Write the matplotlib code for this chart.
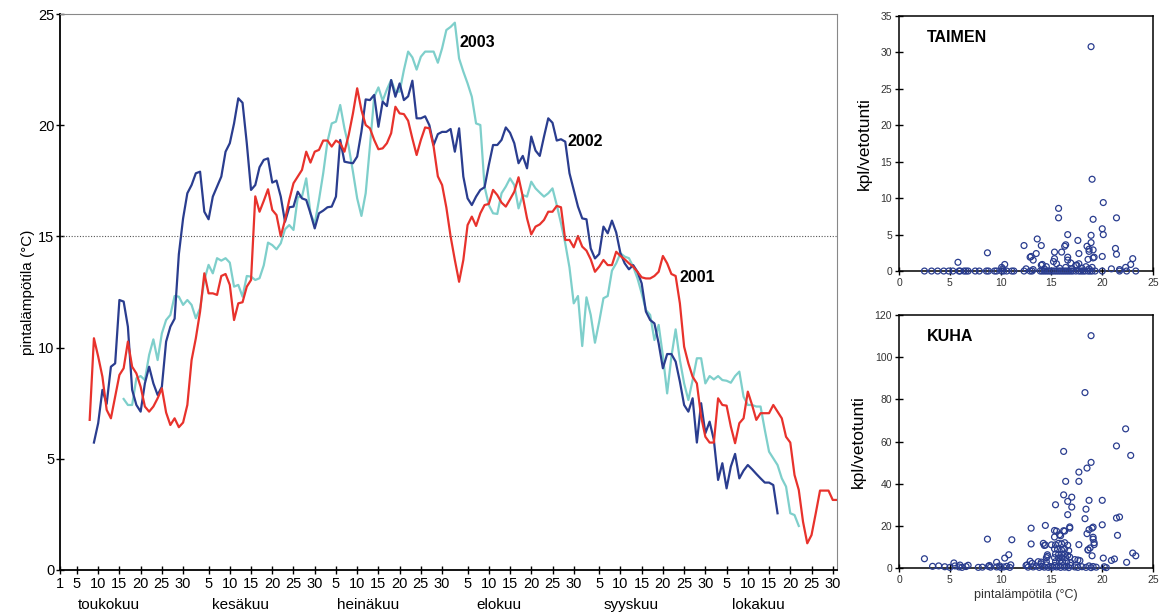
import numpy as np
import matplotlib
matplotlib.use("Agg")
import matplotlib.pyplot as plt

plt.rcParams['font.family'] = ['Liberation Sans', 'DejaVu Sans']

# daily surface temperature, day index counted from 1 May (= 0)
start_2001 = 7
temp_2001 = [6.75, 10.42, 9.6, 8.69, 7.2, 6.82, 7.8, 8.77, 9.07, 10.27,
             9.14, 8.84, 8.24, 7.35, 7.12, 7.35, 7.72, 8.17, 7.08, 6.52,
             6.82, 6.42, 6.63, 7.42, 9.44, 10.42, 11.62, 13.34, 12.44, 12.44,
             12.37, 13.22, 13.31, 12.82, 11.24, 11.99, 12.04, 12.74, 13.04, 16.8,
             16.11, 16.6, 17.12, 16.19, 15.96, 15.0, 15.74, 16.64, 17.39, 17.69,
             17.99, 18.81, 18.32, 18.81, 18.89, 19.31, 19.31, 19.04, 19.31, 19.19,
             18.81, 19.56, 20.53, 21.66, 20.68, 20.01, 19.86, 19.34, 18.92, 18.96,
             19.19, 19.64, 20.83, 20.53, 20.5, 20.2, 19.4, 18.66, 19.34, 19.9,
             19.86, 19.04, 17.7, 17.31, 16.3, 15.0, 13.94, 12.96, 13.94, 15.51,
             15.89, 15.47, 16.04, 16.41, 16.46, 17.09, 16.86, 16.52, 16.34, 16.67,
             17.01, 17.66, 16.79, 15.81, 15.09, 15.44, 15.54, 15.74, 16.11, 16.11,
             16.37, 16.31, 14.84, 14.84, 14.51, 15.02, 14.54, 14.36, 13.97, 13.41,
             13.64, 13.94, 13.71, 13.71, 14.31, 14.12, 13.97, 13.79, 13.64, 13.41,
             13.16, 13.11, 13.11, 13.22, 13.41, 14.12, 13.79, 13.31, 13.22, 11.99,
             10.04, 9.29, 8.69, 8.39, 6.9, 5.99, 5.73, 5.73, 7.72, 7.42,
             7.39, 6.45, 5.7, 6.6, 6.82, 8.02, 7.42, 6.75, 7.05, 7.05,
             7.05, 7.42, 7.12, 6.82, 5.99, 5.73, 4.27, 3.6, 2.17, 1.2,
             1.57, 2.55, 3.57, 3.57, 3.57, 3.15, 3.15]

start_2002 = 8
temp_2002 = [5.73, 6.6, 8.1, 7.47, 9.14, 9.29, 12.14, 12.07, 10.94, 8.1,
             7.42, 7.12, 8.39, 9.14, 8.39, 7.87, 8.24, 10.27, 10.94, 11.3,
             14.2, 15.81, 16.94, 17.31, 17.84, 17.91, 16.11, 15.77, 16.79, 17.24,
             17.69, 18.81, 19.19, 20.08, 21.21, 21.01, 19.19, 17.09, 17.31, 18.11,
             18.44, 18.51, 17.42, 17.51, 16.79, 15.66, 16.31, 16.34, 17.01, 16.71,
             16.64, 16.04, 15.36, 16.04, 16.16, 16.31, 16.34, 16.79, 19.34, 18.36,
             18.32, 18.29, 18.59, 19.71, 21.16, 21.13, 21.36, 19.93, 21.06, 20.86,
             22.03, 21.28, 21.88, 21.13, 21.3, 22.0, 20.31, 20.31, 20.4, 20.0,
             19.11, 19.6, 19.7, 19.7, 19.83, 18.81, 19.86, 17.69, 16.71, 16.41,
             16.79, 17.09, 17.21, 18.21, 19.11, 19.11, 19.34, 19.9, 19.66, 19.19,
             18.29, 18.62, 18.06, 19.49, 18.86, 18.62, 19.49, 20.31, 20.11, 19.31,
             19.37, 19.26, 17.84, 17.09, 16.34, 15.81, 15.77, 14.46, 14.01, 14.21,
             15.44, 15.14, 15.71, 15.18, 14.24, 13.79, 13.52, 13.71, 13.41, 12.89,
             11.62, 11.24, 11.09, 10.19, 9.07, 9.71, 9.71, 9.37, 8.47, 7.42,
             7.12, 7.72, 5.73, 7.5, 6.15, 6.67, 5.85, 4.05, 4.8, 3.67,
             4.65, 5.22, 4.12, 4.47, 4.72, 4.53, 4.32, 4.12, 3.93, 3.93,
             3.82, 2.55]

start_2003 = 15
temp_2003 = [7.69, 7.42, 7.42, 8.62, 8.72, 8.54, 9.67, 10.37, 9.44, 10.64,
             11.24, 11.47, 12.32, 12.29, 11.92, 12.14, 11.92, 11.32, 11.77, 13.04,
             13.72, 13.34, 14.02, 13.91, 14.02, 13.82, 12.74, 12.82, 12.29, 13.22,
             13.19, 13.04, 13.12, 13.7, 14.72, 14.61, 14.42, 14.69, 15.32, 15.51,
             15.29, 16.76, 16.79, 17.61, 16.04, 15.56, 16.64, 17.84, 19.26, 20.08,
             20.16, 20.91, 19.86, 19.04, 17.91, 16.71, 15.92, 16.94, 19.04, 21.28,
             21.7, 21.1, 21.61, 22.03, 21.51, 21.51, 22.48, 23.31, 23.05, 22.5,
             23.08, 23.31, 23.31, 23.31, 22.81, 23.46, 24.28, 24.42, 24.61, 23.0,
             22.41, 21.88, 21.28, 20.08, 20.01, 17.24, 16.41, 16.04, 16.01, 16.94,
             17.24, 17.61, 17.31, 16.26, 16.86, 16.79, 17.46, 17.16, 16.97, 16.79,
             16.94, 17.16, 16.41, 15.59, 14.69, 13.6, 11.99, 12.32, 10.07, 12.26,
             11.47, 10.22, 11.17, 12.22, 12.32, 13.46, 13.79, 14.24, 14.09, 14.02,
             13.64, 13.12, 12.44, 11.69, 11.47, 10.34, 11.02, 9.62, 7.94, 9.59,
             10.82, 9.44, 8.39, 7.64, 8.54, 9.52, 9.52, 8.39, 8.72, 8.57,
             8.72, 8.54, 8.51, 8.42, 8.72, 8.92, 7.79, 7.42, 7.42, 7.35,
             7.35, 6.3, 5.32, 5.02, 4.72, 4.12, 3.75, 2.55, 2.47, 1.98]

months = ['toukokuu', 'kesäkuu', 'heinäkuu', 'elokuu', 'syyskuu', 'lokakuu']
month_start = [0, 31, 61, 92, 123, 153]
tick_days = [1, 5, 10, 15, 20, 25, 30]

# catch per trolling hour vs. surface temperature
taimen_temp = [18.9, 19.0, 20.1, 15.7, 15.7, 19.1, 21.4, 20.0, 20.1, 16.6,
               18.9, 13.6, 17.6, 12.3, 14.0, 16.3, 16.4, 18.5, 18.7, 18.9,
               19.1, 16.0, 15.3, 13.5, 13.0, 8.7, 21.3, 21.4, 23.0, 22.8,
               20.0, 19.1, 18.6, 5.8, 10.4, 17.7, 16.6, 16.6, 13.2, 12.9,
               14.0, 14.1, 15.3, 15.5, 17.5, 17.7, 18.4, 20.9, 21.7, 22.3,
               10.1, 10.2, 12.5, 13.2, 15.2, 16.9, 17.4, 19.2, 18.7, 14.5,
               14.3, 15.8, 16.4, 17.0, 18.0, 18.7, 19.0,
               2.5, 3.2, 3.8, 4.4, 4.9, 5.3, 5.9, 6.0, 6.4, 6.6,
               6.8, 7.5, 7.9, 8.6, 8.8, 9.4, 9.6, 10.1, 10.3, 10.6,
               11.1, 11.3, 12.3, 12.9, 13.1, 13.9, 14.1, 14.3, 14.5, 14.7,
               14.9, 15.1, 15.3, 15.5, 15.7, 15.9, 16.1, 16.3, 16.5, 16.7,
               16.9, 17.1, 17.4, 17.7, 17.9, 18.1, 18.3, 18.6, 18.8, 19.0,
               19.3, 20.0, 21.7, 22.4, 23.3]
taimen_cpue = [30.8, 12.6, 9.4, 8.6, 7.3, 7.1, 7.3, 5.8, 5.0, 5.0,
               4.9, 4.4, 4.2, 3.5, 3.5, 3.4, 3.6, 3.4, 3.0, 3.9,
               2.9, 2.6, 2.6, 2.4, 2.0, 2.5, 3.1, 2.3, 1.7, 0.9,
               2.0, 1.8, 1.6, 1.2, 0.9, 2.4, 1.9, 1.5, 1.5, 1.9,
               0.8, 0.9, 1.7, 1.0, 0.8, 1.0, 0.6, 0.3, 0.2, 0.5,
               0.5, 0.3, 0.3, 0.2, 1.3, 1.1, 0.8, 1.9, 2.7, 0.6,
               0.3, 0.4, 0.5, 0.3, 0.4, 0.3, 0.5,
               0, 0, 0, 0, 0, 0, 0, 0, 0, 0,
               0, 0, 0, 0, 0, 0, 0, 0, 0, 0,
               0, 0, 0, 0, 0, 0, 0, 0, 0, 0,
               0, 0, 0, 0, 0, 0, 0, 0, 0, 0,
               0, 0, 0, 0, 0, 0, 0, 0, 0, 0,
               0, 0, 0, 0, 0]

kuha_temp = [18.9, 18.3, 22.3, 21.4, 22.8, 16.2, 18.9, 18.5, 17.7, 17.7,
             16.4, 16.2, 17.0, 16.6, 18.7, 20.0, 15.4, 17.0, 18.4, 16.6,
             18.3, 21.4, 21.7, 18.7, 19.0, 19.1, 13.0, 14.4, 15.3, 15.8,
             15.3, 16.2, 16.8, 21.5, 20.0, 8.7, 11.1, 13.0, 14.3, 14.4,
             17.7, 19.1, 19.2, 18.5, 19.0, 18.6, 18.8, 20.1, 21.2, 20.9,
             23.0, 23.3, 22.4, 2.5, 10.4, 10.8, 9.6, 5.4, 12.9, 14.6,
             14.6, 14.0, 19.1, 19.2, 18.6, 17.6, 17.8, 17.3, 16.8, 15.9,
             16.3, 15.5,
             15.4, 15.7, 16.0, 16.3, 16.6, 15.3, 15.6, 16.0, 16.3, 16.7,
             15.4, 15.7, 16.0, 16.3, 16.6, 15.3, 15.7, 16.0, 16.4, 16.8,
             15.4, 15.8, 16.1, 16.5, 16.9, 14.5, 14.5, 13.7, 13.1, 14.0,
             12.6, 15.0, 14.2,
             3.3, 3.9, 4.5, 5.0, 5.5, 5.9, 6.0, 6.2, 6.6, 6.8,
             7.8, 8.2, 8.8, 8.9, 9.0, 9.6, 9.9, 10.0, 10.3, 10.6,
             10.9, 11.0, 12.5, 12.7, 13.2, 13.5, 13.8, 14.1, 14.3, 14.5,
             14.7, 14.9, 15.1, 15.3, 15.5, 15.7, 15.9, 16.1, 16.3, 16.5,
             16.7, 16.9, 17.3, 17.6, 18.0, 18.4, 18.7, 18.9, 19.1, 19.4,
             20.2, 20.4]
kuha_cpue = [110.2, 83.2, 66.0, 57.9, 53.4, 55.3, 50.1, 47.4, 45.5, 41.1,
             41.1, 34.7, 33.6, 31.6, 32.1, 32.1, 30.0, 28.9, 27.9, 25.3,
             23.4, 23.7, 24.2, 18.2, 18.9, 19.4, 18.9, 20.2, 17.8, 15.8,
             14.7, 17.7, 18.9, 15.5, 20.5, 13.7, 13.4, 11.4, 10.7, 10.9,
             11.1, 13.7, 11.1, 16.3, 5.8, 8.7, 9.5, 4.7, 4.3, 3.6,
             7.1, 5.8, 2.7, 4.4, 4.7, 6.3, 2.7, 2.4, 3.2, 6.3,
             5.5, 2.8, 14.6, 12.0, 8.5, 3.8, 3.5, 4.0, 19.5, 15.3,
             17.5, 17.5,
             11.0, 11.7, 11.5, 12.0, 10.8, 9.1, 8.8, 8.5, 9.0, 8.2,
             6.6, 6.4, 6.5, 6.7, 6.0, 4.9, 4.8, 5.0, 4.9, 5.2,
             3.0, 3.1, 2.9, 3.0, 2.6, 4.9, 3.0, 3.0, 2.2, 2.0,
             1.5, 11.0, 11.7,
             0.8, 1.0, 0.6, 0.3, 1.0, 0.5, 1.4, 0.3, 0.7, 1.3,
             0.3, 0.4, 0.8, 1.2, 0.4, 0.5, 1.0, 0.3, 0.5, 0.8,
             0.3, 1.5, 1.2, 0.4, 0.5, 1.0, 0.3, 0.8, 0.4, 1.5,
             0.3, 0.7, 0.4, 1.2, 0.5, 0.9, 0.3, 1.1, 0.4, 0.8,
             0.2, 1.2, 0.5, 0.3, 0.6, 0.3, 1.0, 0.2, 0.7, 0.4,
             0.6, 0.2]

c2001 = '#e8322c'
c2002 = '#2a3d8f'
c2003 = '#7ecfcb'

fig = plt.figure(figsize=(11.62, 6.15), dpi=100)

#--- main panel: temperature curves ---
ax = fig.add_axes([0.0516, 0.0732, 0.6687, 0.904])
for start, vals, col in [(start_2003, temp_2003, c2003),
                         (start_2002, temp_2002, c2002),
                         (start_2001, temp_2001, c2001)]:
    days = start + np.arange(len(vals))
    ax.plot(days, vals, color=col, lw=1.6)

ax.axhline(15, color='#555555', lw=0.8, ls=(0, (1, 1.5)))

ax.set_xlim(0, 183)
ax.set_ylim(0, 25)
ax.set_yticks([0, 5, 10, 15, 20, 25])

ticks, labels = [], []
for m, s in enumerate(month_start):
    for d in tick_days:
        if d == 1 and m > 0:
            continue
        ticks.append(s + d - 1)
        labels.append(str(d))
ax.set_xticks(ticks)
ax.set_xticklabels(labels)
ax.tick_params(axis='both', direction='inout', length=6, width=1,
               labelsize=10.5, pad=2)
ax.tick_params(axis='y', length=6, pad=1)

for name, s in zip(months, month_start):
    ax.text(s + 11.5, -0.063, name, transform=ax.get_xaxis_transform(),
            ha='center', va='center', fontsize=11)

ax.set_ylabel('pintalämpötila (°C)', fontsize=11, labelpad=2)

for sp in ['top', 'right']:
    ax.spines[sp].set_color('#888888')
    ax.spines[sp].set_linewidth(0.8)
for sp in ['left', 'bottom']:
    ax.spines[sp].set_linewidth(1.3)

ax.text(94, 23.7, '2003', fontsize=11.5, fontweight='bold', va='center')
ax.text(119.6, 19.25, '2002', fontsize=11.5, fontweight='bold', va='center')
ax.text(146, 13.15, '2001', fontsize=11.5, fontweight='bold', va='center')

#--- catch panels ---
def catch_panel(rect, x, y, ymax, ystep, title, xlabel=None):
    a = fig.add_axes(rect)
    a.scatter(x, y, s=18, facecolors='none', edgecolors=c2002, linewidths=0.9,
              zorder=3, clip_on=False)
    a.set_xlim(0, 25)
    a.set_ylim(0, ymax)
    a.set_xticks([0, 5, 10, 15, 20, 25])
    a.set_yticks(np.arange(0, ymax + 1, ystep))
    a.tick_params(direction='inout', length=6, width=1, labelsize=7.5,
                  labelcolor='#333333', pad=2)
    for sp in a.spines.values():
        sp.set_linewidth(1.1)
    a.set_ylabel('kpl/vetotunti', fontsize=12.5, labelpad=6)
    a.text(0.11, 0.915, title, transform=a.transAxes, fontsize=11.5,
           fontweight='bold', va='center')
    if xlabel:
        a.set_xlabel(xlabel, fontsize=9, color='#333333', labelpad=3)
    return a

catch_panel([0.7737, 0.5593, 0.2186, 0.4146], taimen_temp, taimen_cpue,
            35, 5, 'TAIMEN')
catch_panel([0.7737, 0.0764, 0.2186, 0.4114], kuha_temp, kuha_cpue,
            120, 20, 'KUHA', 'pintalämpötila (°C)')

fig.savefig('out.png', dpi=100)
